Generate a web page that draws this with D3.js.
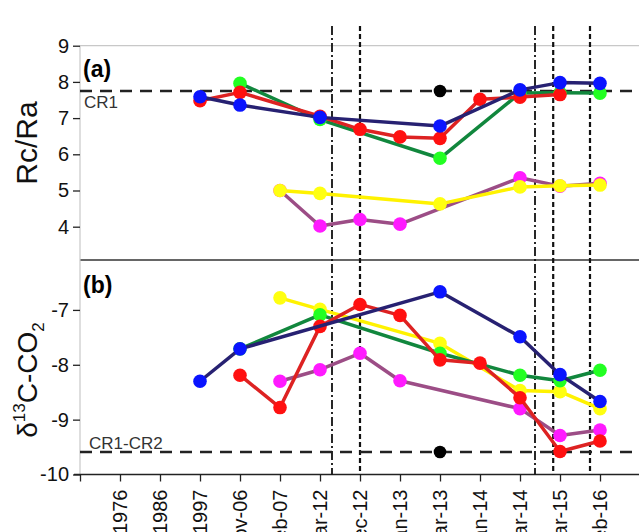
<!DOCTYPE html>
<html>
<head>
<meta charset="utf-8">
<script src="https://cdn.jsdelivr.net/npm/d3@7"></script>
<style>
  body { margin: 0; background: #fff; }
  svg { display: block; font-family: "Liberation Sans", Arial, sans-serif; }
</style>
</head>
<body>
<div id="chart"></div>
<script>
// x categories (index = position on the axis)
var categories = ["", "1976", "1986", "1997", "Nov-06", "Feb-07", "Mar-12", "Dec-12", "Jan-13", "Mar-13", "Jan-14", "Mar-14", "Mar-15", "Feb-16"];

// panel (a) Rc/Ra, [category, value]
var aNavy   = [["1997", 7.59], ["Nov-06", 7.36], ["Mar-12", 7.02], ["Mar-13", 6.78], ["Mar-14", 7.78], ["Mar-15", 7.98], ["Feb-16", 7.96]];
var aRed    = [["1997", 7.48], ["Nov-06", 7.71], ["Mar-12", 7.05], ["Dec-12", 6.69], ["Jan-13", 6.48], ["Mar-13", 6.44], ["Jan-14", 7.52], ["Mar-14", 7.58], ["Mar-15", 7.65]];
var aGreen  = [["Nov-06", 7.96], ["Mar-12", 6.96], ["Mar-13", 5.89], ["Mar-14", 7.69], ["Mar-15", 7.70], ["Feb-16", 7.69]];
var aYellow = [["Feb-07", 5.0], ["Mar-12", 4.92], ["Mar-13", 4.63], ["Mar-14", 5.1], ["Mar-15", 5.13], ["Feb-16", 5.15]];
var aPurple = [["Feb-07", 5.0], ["Mar-12", 4.02], ["Dec-12", 4.2], ["Jan-13", 4.07], ["Mar-14", 5.35], ["Mar-15", 5.12], ["Feb-16", 5.2]];

// panel (b) d13C-CO2
var bNavy   = [["1997", -8.3], ["Nov-06", -7.71], ["Mar-13", -6.67], ["Mar-14", -7.49], ["Mar-15", -8.18], ["Feb-16", -8.67]];
var bRed    = [["Nov-06", -8.19], ["Feb-07", -8.78], ["Mar-12", -7.3], ["Dec-12", -6.9], ["Jan-13", -7.1], ["Mar-13", -7.91], ["Jan-14", -7.97], ["Mar-14", -8.6], ["Mar-15", -9.58], ["Feb-16", -9.39]];
var bGreen  = [["Nov-06", -7.71], ["Mar-12", -7.09], ["Mar-13", -7.79], ["Mar-14", -8.19], ["Mar-15", -8.29], ["Feb-16", -8.1]];
var bYellow = [["Feb-07", -6.78], ["Mar-12", -6.99], ["Mar-13", -7.61], ["Mar-14", -8.47], ["Mar-15", -8.49], ["Feb-16", -8.8]];
var bPurple = [["Feb-07", -8.3], ["Mar-12", -8.09], ["Dec-12", -7.79], ["Jan-13", -8.29], ["Mar-14", -8.8], ["Mar-15", -9.29], ["Feb-16", -9.19]];

var aTicks = [4, 5, 6, 7, 8, 9];
var bTicks = [-10, -9, -8, -7];

// reference levels and the black points at Mar-13
var cr1 = 7.75;
var cr1cr2 = -9.59;
var blackA = [["Mar-13", 7.75]];
var blackB = [["Mar-13", -9.59]];

// vertical marker lines, positions in category index units
var vDashDot = [6.3, 11.375];
var vDashed = [7.0, 11.83, 12.75];

var width = 639, height = 532;
var left = 80;

var svg = d3.select("#chart").append("svg")
    .attr("width", width)
    .attr("height", height);

var x = d3.scaleLinear().domain([0, 14.5]).range([left, left + 40 * 14.5]);
var yA = d3.scaleLinear().domain([3.08, 9]).range([260, 45.7]);
var yB = d3.scaleLinear().domain([-10, -6.09]).range([474.5, 260]);

var idx = function(c) { return categories.indexOf(c); };

// frame lines
svg.append("line").attr("x1", left).attr("x2", width).attr("y1", yA(9)).attr("y2", yA(9))
    .attr("stroke", "#c8c8c8").attr("stroke-width", 1.2);
svg.append("line").attr("x1", left).attr("x2", width).attr("y1", 260).attr("y2", 260)
    .attr("stroke", "#333").attr("stroke-width", 1.3);
svg.append("line").attr("x1", left).attr("x2", left).attr("y1", yA(9)).attr("y2", yB(-10))
    .attr("stroke", "#c8c8c8").attr("stroke-width", 1.2);

// y axes
function yAxis(scale, ticks) {
    var g = svg.append("g").attr("transform", "translate(" + left + ",0)")
        .call(d3.axisLeft(scale).tickValues(ticks).tickSize(7).tickPadding(4).tickFormat(d3.format("d")));
    g.select(".domain").remove();
    g.selectAll(".tick line").attr("stroke", "#222").attr("stroke-width", 1.3);
    g.selectAll("text").style("font-size", "20px").attr("fill", "#111")
        .text(function(d) { return d < 0 ? "-" + Math.abs(d) : d; });
}
yAxis(yA, aTicks);
yAxis(yB, bTicks);

// x axis
var xg = svg.append("g").attr("transform", "translate(0," + yB(-10) + ")")
    .call(d3.axisBottom(x).tickValues(d3.range(categories.length)).tickSize(7).tickFormat(""));
xg.select(".domain").remove();
xg.selectAll(".tick line").attr("stroke", "#222").attr("stroke-width", 1.3);
svg.append("line").attr("x1", left - 6).attr("x2", width).attr("y1", yB(-10)).attr("y2", yB(-10))
    .attr("stroke", "#222").attr("stroke-width", 1.5);

// rotated category labels (the bottom of the picture cuts them, as in the original)
svg.append("g").selectAll("text")
    .data(categories)
    .join("text")
    .attr("transform", function(d, i) { return "translate(" + x(i) + "," + (yB(-10) + 15) + ") rotate(-90)"; })
    .attr("text-anchor", "end")
    .attr("dy", "0.36em")
    .style("font-size", "20px")
    .attr("fill", "#111")
    .text(function(d) { return d; });

// vertical lines
svg.append("g").selectAll("line")
    .data(vDashDot)
    .join("line")
    .attr("x1", d => x(d)).attr("x2", d => x(d))
    .attr("y1", 26).attr("y2", yB(-10))
    .attr("stroke", "#111").attr("stroke-width", 1.8)
    .attr("stroke-dasharray", "9,3,2,3");
svg.append("g").selectAll("line")
    .data(vDashed)
    .join("line")
    .attr("x1", d => x(d)).attr("x2", d => x(d))
    .attr("y1", 26).attr("y2", yB(-10))
    .attr("stroke", "#111").attr("stroke-width", 2.2)
    .attr("stroke-dasharray", "5,3");

// reference dashed lines
svg.append("line").attr("x1", left).attr("x2", width).attr("y1", yA(cr1)).attr("y2", yA(cr1))
    .attr("stroke", "#222").attr("stroke-width", 2.5).attr("stroke-dasharray", "12,8");
svg.append("line").attr("x1", left).attr("x2", width).attr("y1", yB(cr1cr2)).attr("y2", yB(cr1cr2))
    .attr("stroke", "#222").attr("stroke-width", 2.5).attr("stroke-dasharray", "12,8");

svg.append("text").attr("x", 84).attr("y", 108).style("font-size", "17px").attr("fill", "#333").text("CR1");
svg.append("text").attr("x", 89).attr("y", 449).style("font-size", "17px").attr("fill", "#333").text("CR1-CR2");

// series
function series(data, y, lineColor, dotColor, lw) {
    var line = d3.line().x(d => x(idx(d[0]))).y(d => y(d[1]));
    svg.append("path").datum(data)
        .attr("d", line)
        .attr("fill", "none")
        .attr("stroke", lineColor)
        .attr("stroke-width", lw)
        .attr("stroke-linejoin", "round");
    svg.append("g").selectAll("circle")
        .data(data)
        .join("circle")
        .attr("cx", d => x(idx(d[0])))
        .attr("cy", d => y(d[1]))
        .attr("r", 6.8)
        .attr("fill", dotColor);
}

series(aPurple, yA, "#9c4d86", "#ff1aff", 3.5);
series(aYellow, yA, "#fff200", "#ffff10", 3.5);
series(aGreen, yA, "#11873d", "#22ff22", 3.5);
series(aRed, yA, "#dd2222", "#ff1010", 3.5);
series(aNavy, yA, "#272172", "#0a14ff", 3.5);

series(bPurple, yB, "#9c4d86", "#ff1aff", 3.5);
series(bYellow, yB, "#fff200", "#ffff10", 3.5);
series(bGreen, yB, "#11873d", "#22ff22", 3.5);
series(bRed, yB, "#dd2222", "#ff1010", 3.5);
series(bNavy, yB, "#272172", "#0a14ff", 3.5);

svg.append("g").selectAll("circle")
    .data(blackA.map(d => [d[0], yA(d[1])]).concat(blackB.map(d => [d[0], yB(d[1])])))
    .join("circle")
    .attr("cx", d => x(idx(d[0])))
    .attr("cy", d => d[1])
    .attr("r", 6.3)
    .attr("fill", "#000");

// panel labels
svg.append("text").attr("x", 83).attr("y", 77).style("font-size", "23px").style("font-weight", "bold").text("(a)");
svg.append("text").attr("x", 83).attr("y", 293).style("font-size", "23px").style("font-weight", "bold").text("(b)");

// y titles
svg.append("text")
    .attr("transform", "translate(37,143) rotate(-90)")
    .attr("text-anchor", "middle")
    .style("font-size", "30px")
    .attr("fill", "#111")
    .text("Rc/Ra");

var t = svg.append("text")
    .attr("transform", "translate(37,380) rotate(-90)")
    .attr("text-anchor", "middle")
    .style("font-size", "28px")
    .attr("fill", "#111");
t.append("tspan").text("δ");
t.append("tspan").attr("dy", -12).style("font-size", "17px").text("13");
t.append("tspan").attr("dy", 12).text("C-CO");
t.append("tspan").attr("dy", 7).style("font-size", "17px").text("2");
</script>
</body>
</html>
